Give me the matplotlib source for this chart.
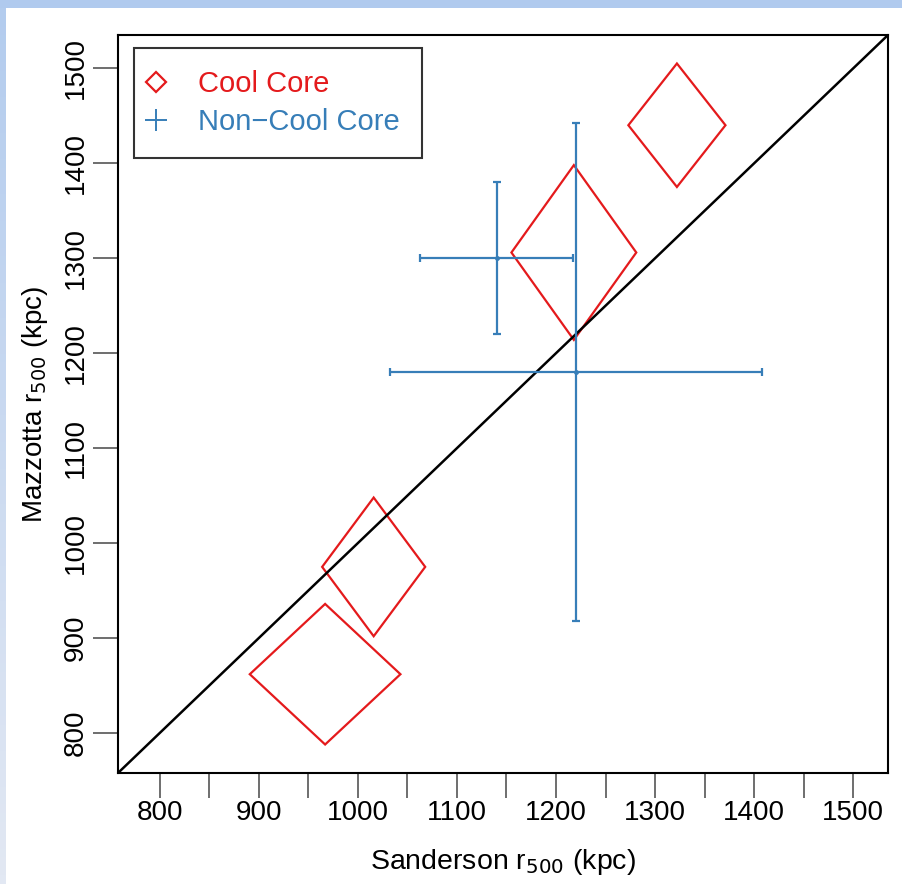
import numpy as np
import matplotlib.pyplot as plt
from matplotlib.colors import LinearSegmentedColormap
from matplotlib.patches import Polygon, Rectangle
from matplotlib.lines import Line2D

plt.rcParams['font.family'] = ['Liberation Sans', 'DejaVu Sans']

red = '#E41A1C'
blue = '#377EB8'

# cool core clusters: centre and half-widths of the uncertainty diamonds
cc_x = [1322, 1218, 1016, 967]
cc_y = [1440, 1306, 975, 862]
cc_dx = [49, 63, 52, 76]
cc_dy = [65, 92, 73, 74]

# non-cool core clusters with symmetric errors
ncc_x = [1140, 1220]
ncc_y = [1300, 1180]
ncc_xerr = [77, 188]
ncc_yerr = [80, 262]

lims = (758, 1535)
xticks_major = [800, 900, 1000, 1100, 1200, 1300, 1400, 1500]
xticks_minor = [850, 950, 1050, 1150, 1250, 1350, 1450]
yticks = [800, 900, 1000, 1100, 1200, 1300, 1400, 1500]

fig = plt.figure(figsize=(9.03, 8.84), dpi=100)

# light blue frame around the image
grad = fig.add_axes([0, 0, 6 / 903, 1])
cmap = LinearSegmentedColormap.from_list('edge', ['#B3CCEE', '#E2E8F3'])
grad.imshow(np.linspace(0, 1, 100).reshape(-1, 1), cmap=cmap,
            aspect='auto', extent=[0, 1, 0, 1], origin='upper')
grad.axis('off')
fig.patches.append(Rectangle((0, 1 - 8 / 884), 1, 8 / 884, transform=fig.transFigure,
                             facecolor='#B0CAEE', edgecolor='none'))

ax = fig.add_axes([118 / 903, 111 / 884, 770 / 903, 738 / 884])
ax.set_xlim(lims)
ax.set_ylim(lims)

ax.plot(lims, lims, color='black', lw=1.8)

for x, y, dx, dy in zip(cc_x, cc_y, cc_dx, cc_dy):
    pts = [(x - dx, y), (x, y + dy), (x + dx, y), (x, y - dy)]
    ax.add_patch(Polygon(pts, closed=True, fill=False, edgecolor=red, lw=1.6))

ax.errorbar(ncc_x, ncc_y, xerr=ncc_xerr, yerr=ncc_yerr, fmt='o', ms=2.5,
            color=blue, ecolor=blue, elinewidth=1.6, capsize=3, capthick=1.6)

for s in ax.spines.values():
    s.set_linewidth(1.5)

ax.set_xticks(xticks_major)
ax.set_xticks(xticks_minor, minor=True)
ax.set_yticks(yticks)
ax.tick_params(axis='both', which='both', length=18, width=1.2, color='#555555',
               labelsize=20)
ax.tick_params(axis='x', pad=1.5)
ax.tick_params(axis='y', pad=3)
ax.tick_params(axis='x', which='minor', labelbottom=False)
for lab in ax.get_yticklabels():
    lab.set_rotation(90)
    lab.set_va('center')

ax.set_xlabel('Sanderson r$_{500}$ (kpc)', fontsize=20.5, labelpad=15)
ax.set_ylabel('Mazzotta r$_{500}$ (kpc)', fontsize=20, labelpad=9)

handles = [Line2D([], [], color=red, marker='D', ms=10, mfc='none', mew=1.6, ls='none'),
           Line2D([], [], color=blue, marker='+', ms=16, mew=1.4, ls='none')]
leg = ax.legend(handles, ['Cool Core', 'Non\u2212Cool Core'], loc='upper left',
                bbox_to_anchor=(16 / 770, 1 - 13 / 738), borderaxespad=0,
                fontsize=21, frameon=True, fancybox=False, edgecolor='black',
                handlelength=0.0, handletextpad=1.45, borderpad=0.75, labelspacing=0.35)
leg.get_frame().set_linewidth(1.5)
for t, c in zip(leg.get_texts(), [red, blue]):
    t.set_color(c)

fig.savefig('out.png', dpi=100)
